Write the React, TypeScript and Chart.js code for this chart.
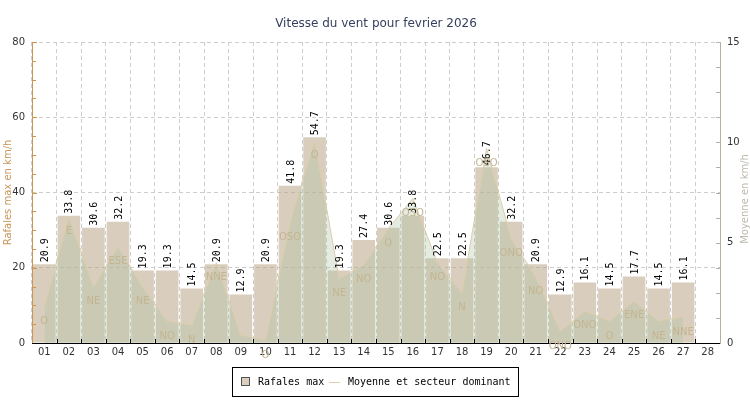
import React, { useEffect, useRef } from "react";
import { Chart, registerables } from "chart.js";
Chart.register(...registerables);

const days = ["01","02","03","04","05","06","07","08","09","10","11","12","13","14","15","16","17","18","19","20","21","22","23","24","25","26","27","28"];
const gusts = [20.9,33.8,30.6,32.2,19.3,19.3,14.5,20.9,12.9,20.9,41.8,54.7,19.3,27.4,30.6,33.8,22.5,22.5,46.7,32.2,20.9,12.9,16.1,14.5,17.7,14.5,16.1,null];
const average = [1.8,6.3,2.8,4.8,2.8,1.1,0.9,4.0,0.4,0.15,6.0,10.1,3.2,3.9,5.7,7.2,4.0,2.5,9.7,5.2,3.3,0.6,1.6,1.1,2.1,1.1,1.3,null];
const directions = ["O","E","NE","ESE","NE","NO","N","NNE","","O","OSO","O","NE","NO","O","OSO","NO","N","OSO","ONO","NO","ONO","ONO","O","ENE","NE","NNE",""];
const leftTicks = [0, 20, 40, 60, 80];
const rightTicks = [0, 5, 10, 15];

const TITLE = "Vitesse du vent pour fevrier 2026";
const LEFT_TITLE = "Rafales max en km/h";
const RIGHT_TITLE = "Moyenne en km/h";
const LEGEND_BAR = "Rafales max";
const LEGEND_LINE = "Moyenne et secteur dominant";

const BAR_COLOR = "rgba(185,165,135,0.55)";
const AREA_COLOR = "rgba(173,194,164,0.33)";
const LINE_COLOR = "rgb(222,205,170)";
const DIR_COLOR = "rgb(196,180,145)";

const decor = {
  id: "decor",
  afterDraw(chart: any) {
    const ctx = chart.ctx as CanvasRenderingContext2D;
    const { left, right, top, bottom } = chart.chartArea;
    const xs = chart.scales.x;
    const ys = chart.scales.y;
    const y1 = chart.scales.y1;
    ctx.save();

    // left axis
    ctx.strokeStyle = "rgb(205,150,80)";
    ctx.lineWidth = 1;
    ctx.beginPath();
    ctx.moveTo(left + 0.5, top);
    ctx.lineTo(left + 0.5, bottom);
    for (let v = 0; v <= 80; v += 5) {
      const py = Math.round(ys.getPixelForValue(v)) + 0.5;
      ctx.moveTo(left, py);
      ctx.lineTo(left + (v % 20 === 0 ? 5 : 4), py);
    }
    ctx.stroke();

    // right axis
    ctx.strokeStyle = "rgb(185,175,160)";
    ctx.beginPath();
    ctx.moveTo(right + 0.5, top);
    ctx.lineTo(right + 0.5, bottom);
    for (let v = 0; v <= 15; v += 1.25) {
      const py = Math.round(y1.getPixelForValue(v)) + 0.5;
      ctx.moveTo(right + 1, py);
      ctx.lineTo(right - 4, py);
    }
    ctx.stroke();

    // x axis
    ctx.strokeStyle = "#000";
    ctx.beginPath();
    ctx.moveTo(left, bottom + 0.5);
    ctx.lineTo(right, bottom + 0.5);
    const step = (right - left) / days.length;
    for (let i = 1; i < days.length; i++) {
      const px = Math.round(left + step * i) + 0.5;
      ctx.moveTo(px, bottom);
      ctx.lineTo(px, bottom - 4);
    }
    ctx.stroke();

    // value labels
    ctx.fillStyle = "#000";
    ctx.font = "10px 'DejaVu Sans Mono'";
    ctx.textAlign = "left";
    ctx.textBaseline = "middle";
    gusts.forEach((v, i) => {
      if (v == null) return;
      const cx = xs.getPixelForValue(i);
      const py = ys.getPixelForValue(v);
      ctx.save();
      ctx.translate(cx + 1, py - 2);
      ctx.rotate(-Math.PI / 2);
      ctx.fillText(v.toFixed(1), 0, 0);
      ctx.restore();
    });

    // direction labels
    ctx.fillStyle = DIR_COLOR;
    ctx.font = "10px 'DejaVu Sans'";
    ctx.textAlign = "center";
    ctx.textBaseline = "middle";
    average.forEach((v, i) => {
      if (v == null || !directions[i]) return;
      const cx = xs.getPixelForValue(i);
      const py = y1.getPixelForValue(v);
      ctx.fillText(directions[i], cx, py + 15);
    });

    // title
    ctx.fillStyle = "rgb(55,65,95)";
    ctx.font = "12px 'DejaVu Sans'";
    ctx.textAlign = "center";
    ctx.fillText(TITLE, 376, 24);

    // axis titles
    ctx.font = "10px 'DejaVu Sans'";
    ctx.save();
    ctx.translate(8, (top + bottom) / 2);
    ctx.rotate(-Math.PI / 2);
    ctx.fillStyle = "rgb(200,150,90)";
    ctx.fillText(LEFT_TITLE, 0, 0);
    ctx.restore();
    ctx.save();
    ctx.translate(745, 199);
    ctx.rotate(-Math.PI / 2);
    ctx.fillStyle = "rgb(190,185,175)";
    ctx.fillText(RIGHT_TITLE, 0, 0);
    ctx.restore();

    // legend
    ctx.fillStyle = "#fff";
    ctx.fillRect(232, 367, 286, 29);
    ctx.strokeStyle = "#000";
    ctx.strokeRect(232.5, 367.5, 286, 29);
    ctx.fillStyle = BAR_COLOR;
    ctx.fillRect(241, 377, 8, 8);
    ctx.strokeStyle = "#555";
    ctx.strokeRect(241.5, 377.5, 8, 8);
    ctx.strokeStyle = LINE_COLOR;
    ctx.beginPath();
    ctx.moveTo(329, 382.5);
    ctx.lineTo(340, 382.5);
    ctx.stroke();
    ctx.fillStyle = "#000";
    ctx.font = "10px 'DejaVu Sans Mono'";
    ctx.textAlign = "left";
    ctx.textBaseline = "middle";
    ctx.fillText(LEGEND_BAR, 258, 382);
    ctx.fillText(LEGEND_LINE, 348, 382);

    ctx.restore();
  },
};

export default function App() {
  const ref = useRef<HTMLCanvasElement>(null);
  useEffect(() => {
    if (!ref.current) return;
    const chart = new Chart(ref.current, {
      type: "bar",
      data: {
        labels: days,
        datasets: [
          {
            type: "bar",
            label: LEGEND_BAR,
            data: gusts as any,
            backgroundColor: BAR_COLOR,
            borderWidth: 0,
            barPercentage: 0.92,
            categoryPercentage: 1,
            yAxisID: "y",
            order: 2,
          },
          {
            type: "line",
            label: LEGEND_LINE,
            data: average as any,
            borderColor: LINE_COLOR,
            borderWidth: 1,
            backgroundColor: AREA_COLOR,
            fill: "origin",
            pointRadius: 0,
            tension: 0,
            yAxisID: "y1",
            order: 1,
          },
        ],
      },
      options: {
        responsive: false,
        animation: false,
        devicePixelRatio: 1,
        layout: { padding: { top: 42, left: 0, right: 0, bottom: 0 } },
        plugins: { legend: { display: false }, title: { display: false }, tooltip: { enabled: false } },
        scales: {
          x: {
            type: "category",
            offset: true,
            grid: { offset: true, color: "rgb(205,205,205)", drawTicks: false },
            border: { display: false, dash: [4, 3] },
            ticks: { color: "#333", font: { family: "DejaVu Sans", size: 10 }, padding: 3, maxRotation: 0, autoSkip: false },
            afterFit: (s: any) => { s.height = 57; },
          },
          y: {
            position: "left",
            min: 0,
            max: 80,
            afterBuildTicks: (s: any) => { s.ticks = leftTicks.map((v) => ({ value: v })); },
            grid: { color: "rgb(205,205,205)", drawTicks: false },
            border: { display: false, dash: [4, 3] },
            ticks: { color: "#333", font: { family: "DejaVu Sans", size: 10 }, padding: 7 },
            afterFit: (s: any) => { s.width = 32; },
          },
          y1: {
            position: "right",
            min: 0,
            max: 15,
            afterBuildTicks: (s: any) => { s.ticks = rightTicks.map((v) => ({ value: v })); },
            grid: { display: false, drawTicks: false },
            border: { display: false },
            ticks: { color: "#333", font: { family: "DejaVu Sans", size: 10 }, padding: 7 },
            afterFit: (s: any) => { s.width = 30; },
          },
        },
      },
      plugins: [decor],
    });
    return () => chart.destroy();
  }, []);
  return (
    <div style={{ position: "fixed", left: 0, top: 0, width: 750, height: 400, background: "#fff" }}>
      <canvas ref={ref} width={750} height={400} style={{ display: "block" }} />
    </div>
  );
}
